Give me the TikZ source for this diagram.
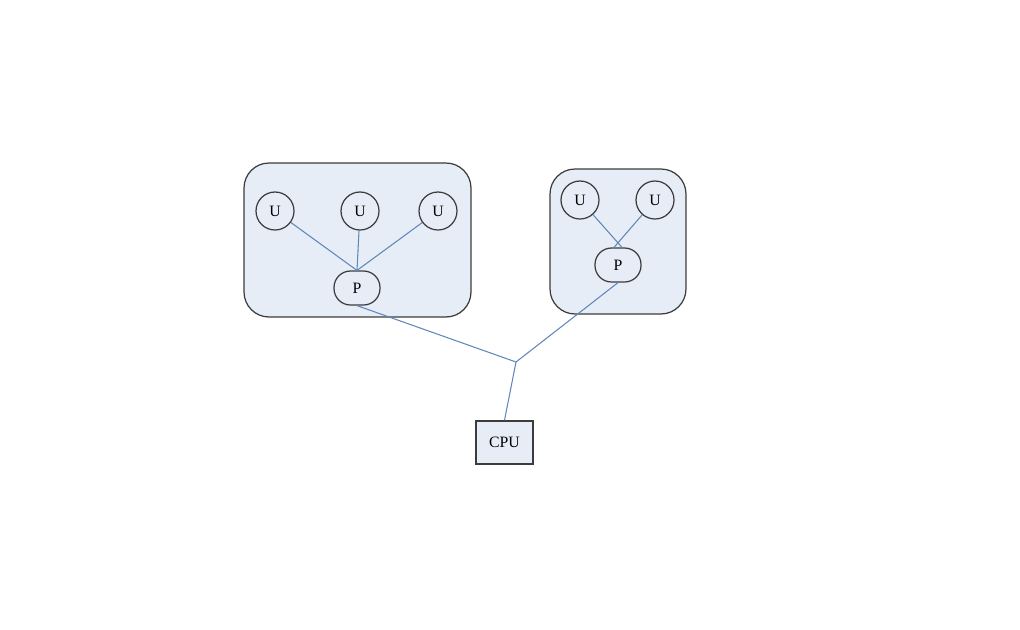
\documentclass[tikz,border=0pt]{standalone}
\usepackage{fontspec}
\setmainfont{Liberation Serif}
\usepackage{tikz}
\usetikzlibrary{calc}
\definecolor{boxfill}{RGB}{231,237,247}
\definecolor{boxline}{RGB}{60,60,60}
\definecolor{linkblue}{RGB}{95,135,185}
\tikzstyle{every node}=[font=\fontsize{9}{10}\selectfont]
\tikzstyle{group}=[draw=boxline, fill=boxfill, rounded corners=0.5cm, line width=0.7pt]
\tikzstyle{unode}=[draw=boxline, circle, minimum size=0.76cm, inner sep=0pt, line width=0.7pt]
\tikzstyle{pnode}=[draw=boxline, rectangle, rounded corners=0.33cm, minimum width=0.92cm, minimum height=0.68cm, inner sep=0pt, line width=0.7pt]
\tikzstyle{link}=[draw=linkblue, line width=0.6pt]

\begin{document}
\begin{tikzpicture}[x=0.02cm, y=-0.02cm]
                \useasboundingbox (0, 0) rectangle (1020, 629);

                \node [group, minimum width=4.54cm, minimum height=3.08cm] (grpA) at (357.5, 240) {};
                \node [group, minimum width=2.72cm, minimum height=2.9cm] (grpB) at (618, 241.5) {};

                \node [unode] (u1) at (275, 211) {U};
                \node [unode] (u2) at (360, 211) {U};
                \node [unode] (u3) at (438, 211) {U};
                \node [pnode] (p1) at (357, 288) {P};

                \node [unode] (u4) at (580, 200) {U};
                \node [unode] (u5) at (655, 200) {U};
                \node [pnode] (p2) at (618, 265) {P};

                \coordinate (j) at (516, 362);
                \node [draw=boxline, fill=boxfill, minimum width=1.14cm, minimum height=0.86cm, inner sep=0pt, line width=0.9pt] (cpu) at (504.5, 442.5) {CPU};

                \draw [link] (u1) -- (p1.north);
                \draw [link] (u2) -- (p1.north);
                \draw [link] (u3) -- (p1.north);
                \draw [link] (u4) -- ($(p2.north)+(4, 0)$);
                \draw [link] (u5) -- ($(p2.north)+(-4, 0)$);

                \draw [link] (p1.south) -- (j) -- (cpu.north);
                \draw [link] (p2.south) -- (j);
            \end{tikzpicture}
\end{document}
